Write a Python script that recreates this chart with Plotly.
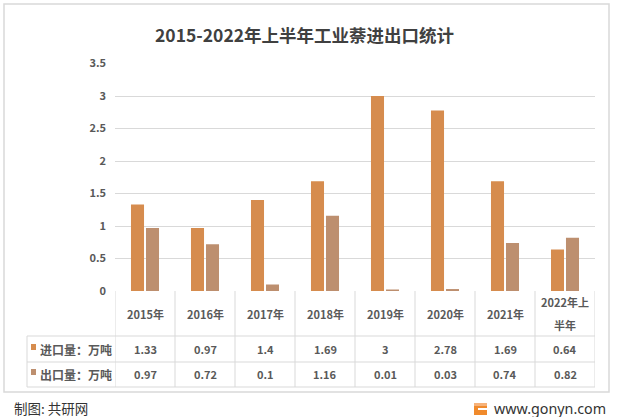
import plotly.graph_objects as go

categories = ["2015年", "2016年", "2017年", "2018年", "2019年", "2020年", "2021年", "2022年上半年"]
header_lines = [["2015年"], ["2016年"], ["2017年"], ["2018年"], ["2019年"], ["2020年"], ["2021年"], ["2022年上", "半年"]]
imports = [1.33, 0.97, 1.4, 1.69, 3, 2.78, 1.69, 0.64]
exports = [0.97, 0.72, 0.1, 1.16, 0.01, 0.03, 0.74, 0.82]
series_names = ["进口量：万吨", "出口量：万吨"]
colors = ["#D68C4E", "#BD8F6F"]
y_ticks = [0, 0.5, 1, 1.5, 2, 2.5, 3, 3.5]
y_tick_text = ["0", "0.5", "1", "1.5", "2", "2.5", "3", "3.5"]

W, H = 617, 417
def px(y):
    return (H - y) / H
def pxx(x):
    return x / W

fig = go.Figure()
for name, vals, col in zip(series_names, [imports, exports], colors):
    fig.add_trace(go.Bar(x=list(range(len(categories))), y=vals, name=name,
                         marker=dict(color=col, line=dict(width=0)),
                         hoverinfo="x+y"))

font_cjk = "Noto Sans CJK SC, Microsoft YaHei, sans-serif"
grey = "#595959"

shapes = []
annotations = []
line_col = "#D9D9D9"

# outer frame
shapes.append(dict(type="rect", xref="paper", yref="paper", x0=pxx(4), x1=pxx(609),
                   y0=px(392), y1=px(4), line=dict(color="#D9D9D9", width=1.5), layer="below"))

y_top_header = px(291)
y_row1 = px(336)
y_row2 = px(362)
y_bot = px(387)

n = len(categories)
for k in range(n + 1):
    shapes.append(dict(type="line", xref="x", yref="paper", x0=k - 0.5, x1=k - 0.5,
                       y0=y_bot, y1=y_top_header, line=dict(color=line_col, width=1)))
shapes.append(dict(type="line", xref="paper", yref="paper", x0=pxx(27), x1=pxx(27),
                   y0=y_bot, y1=y_row1, line=dict(color=line_col, width=1)))
for yy in [y_row1, y_row2, y_bot]:
    shapes.append(dict(type="line", xref="paper", yref="paper", x0=pxx(27), x1=pxx(595),
                       y0=yy, y1=yy, line=dict(color=line_col, width=1)))

# header labels
for i, lines in enumerate(header_lines):
    if len(lines) == 1:
        ys = [313.5]
    else:
        ys = [302.5, 325]
    for txt, yy in zip(lines, ys):
        annotations.append(dict(x=i, y=px(yy), xref="x", yref="paper",
                                text="<b>" + txt + "</b>", showarrow=False,
                                font=dict(family=font_cjk, size=11, color=grey),
                                xanchor="center", yanchor="middle"))
for vals, yrow in [(imports, px(349)), (exports, px(374))]:
    for i, v in enumerate(vals):
        annotations.append(dict(x=i, y=yrow, xref="x", yref="paper",
                                text="<b>" + f"{v:g}" + "</b>", showarrow=False,
                                font=dict(family=font_cjk, size=11, color=grey),
                                xanchor="center", yanchor="middle"))
for name, col, ymid in [(series_names[0], colors[0], 349),
                        (series_names[1], colors[1], 374)]:
    shapes.append(dict(type="rect", xref="paper", yref="paper", x0=pxx(31), x1=pxx(36),
                       y0=px(ymid + 1), y1=px(ymid - 5), fillcolor=col, line=dict(width=0)))
    annotations.append(dict(x=pxx(38), y=px(ymid), xref="paper", yref="paper",
                            text="<b>" + name + "</b>", showarrow=False,
                            font=dict(family=font_cjk, size=12, color=grey),
                            xanchor="left", yanchor="middle"))

annotations.append(dict(x=pxx(304), y=px(34), xref="paper", yref="paper",
                        text="<b>2015-2022年上半年工业萘进出口统计</b>", showarrow=False,
                        font=dict(family=font_cjk, size=17.5, color="#404040"),
                        xanchor="center", yanchor="middle"))
annotations.append(dict(x=pxx(12), y=px(408), xref="paper", yref="paper",
                        text="制图: 共研网", showarrow=False,
                        font=dict(family=font_cjk, size=13.5, color="#333333"),
                        xanchor="left", yanchor="middle"))
annotations.append(dict(x=pxx(608), y=px(408), xref="paper", yref="paper",
                        text="www.gonyn.com", showarrow=False,
                        font=dict(family="Noto Sans, sans-serif", size=14.3, color="#333333"),
                        xanchor="right", yanchor="middle"))
# logo
shapes.append(dict(type="rect", xref="paper", yref="paper", x0=pxx(474), x1=pxx(487),
                   y0=px(415), y1=px(403), fillcolor="#F08A2C", line=dict(width=0)))
shapes.append(dict(type="rect", xref="paper", yref="paper", x0=pxx(474), x1=pxx(487),
                   y0=px(406), y1=px(403), fillcolor="#F6B27A", line=dict(width=0)))
shapes.append(dict(type="rect", xref="paper", yref="paper", x0=pxx(478), x1=pxx(487),
                   y0=px(410), y1=px(408), fillcolor="#FFFFFF", line=dict(width=0)))

fig.update_layout(
    width=W, height=H, margin=dict(l=0, r=0, t=0, b=0, autoexpand=False),
    paper_bgcolor="white", plot_bgcolor="white",
    showlegend=False, barmode="group", bargap=0.5, bargroupgap=0.13,
    xaxis=dict(domain=[pxx(115), pxx(595)], range=[-0.5, n - 0.5], showticklabels=False,
               showgrid=False, zeroline=False, showline=False, ticks="", fixedrange=True,
               automargin=False),
    yaxis=dict(domain=[px(291), px(63.5)], range=[0, 3.502], tickvals=y_ticks, ticktext=y_tick_text,
               showgrid=True, gridcolor="#D9D9D9", gridwidth=1, zeroline=False, showline=False,
               ticks="", ticklabelstandoff=8, automargin=False,
               tickfont=dict(family=font_cjk, size=11, color=grey, weight="bold")),
    shapes=shapes, annotations=annotations,
)

fig.write_html("out.html",
               post_script="document.body.style.margin='0';document.body.style.overflow='hidden';")
